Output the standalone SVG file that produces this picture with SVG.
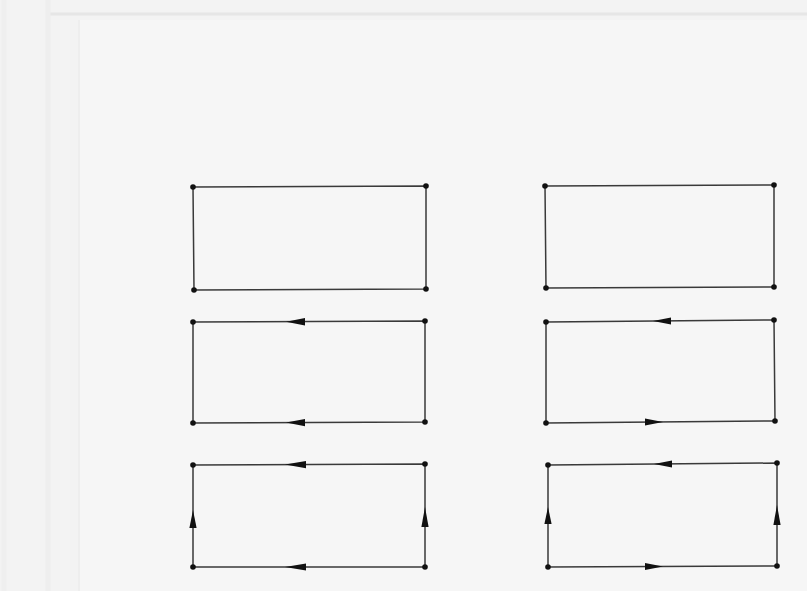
<svg xmlns="http://www.w3.org/2000/svg" width="807" height="591" viewBox="0 0 807 591">
<style>
.side{fill:none;stroke:#3a3a3a;stroke-width:1.5;stroke-linejoin:miter}
.dot{fill:#111}
.arr{fill:#111}
</style>
<defs>
<circle id="d" r="2.8" class="dot"/>
</defs>
<rect x="0" y="0" width="807" height="591" fill="#f3f3f3"/>
<rect x="80" y="20" width="727" height="571" fill="#f6f6f6"/>
<line x1="50" y1="14" x2="807" y2="14" stroke="#e6e6e6" stroke-width="3"/>
<line x1="48" y1="0" x2="48" y2="591" stroke="#eeeeee" stroke-width="5"/>
<line x1="4" y1="0" x2="4" y2="591" stroke="#efefef" stroke-width="5"/>
<line x1="79" y1="20" x2="79" y2="591" stroke="#eeeeee" stroke-width="2"/>

<g id="loop1">
<path class="side" d="M193,187 L426,186 L426,289 L194,290 Z"/>
<use href="#d" x="193" y="187"/><use href="#d" x="426" y="186"/><use href="#d" x="426" y="289"/><use href="#d" x="194" y="290"/>
</g>
<g id="loop2">
<path class="side" d="M545,186 L774,185 L774,287 L546,288 Z"/>
<use href="#d" x="545" y="186"/><use href="#d" x="774" y="185"/><use href="#d" x="774" y="287"/><use href="#d" x="546" y="288"/>
</g>
<g id="loop3">
<path class="side" d="M193,322 L425,321 L425,422 L193,423 Z"/>
<use href="#d" x="193" y="322"/><use href="#d" x="425" y="321"/><use href="#d" x="425" y="422"/><use href="#d" x="193" y="423"/>
</g>
<g id="loop4">
<path class="side" d="M546,322 L774,320 L775,421 L546,423 Z"/>
<use href="#d" x="546" y="322"/><use href="#d" x="774" y="320"/><use href="#d" x="775" y="421"/><use href="#d" x="546" y="423"/>
</g>
<g id="loop5">
<path class="side" d="M193,465 L425,464 L425,567 L193,567 Z"/>
<use href="#d" x="193" y="465"/><use href="#d" x="425" y="464"/><use href="#d" x="425" y="567"/><use href="#d" x="193" y="567"/>
</g>
<g id="loop6">
<path class="side" d="M548,465 L777,463 L777,566 L548,567 Z"/>
<use href="#d" x="548" y="465"/><use href="#d" x="777" y="463"/><use href="#d" x="777" y="566"/><use href="#d" x="548" y="567"/>
</g>

<g id="connectors">
<polygon class="arr" points="286,321.7 305,318 305,325.4"/>
<polygon class="arr" points="286,422.6 305,419 305,426.2"/>
<polygon class="arr" points="653,321 671,317.4 671,324.6"/>
<polygon class="arr" points="663,422 645,418.4 645,425.6"/>
<polygon class="arr" points="285,464.6 306,461 306,468.2"/>
<polygon class="arr" points="285,567 306,563.4 306,570.6"/>
<polygon class="arr" points="193,510 189.4,528 196.6,528"/>
<polygon class="arr" points="425,507 421.4,527 428.6,527"/>
<polygon class="arr" points="654,464 672,460.4 672,467.6"/>
<polygon class="arr" points="663,566.5 645,562.9 645,570.1"/>
<polygon class="arr" points="548,507 544.4,524 551.6,524"/>
<polygon class="arr" points="777,505 773.4,525 780.6,525"/>
</g>
</svg>
